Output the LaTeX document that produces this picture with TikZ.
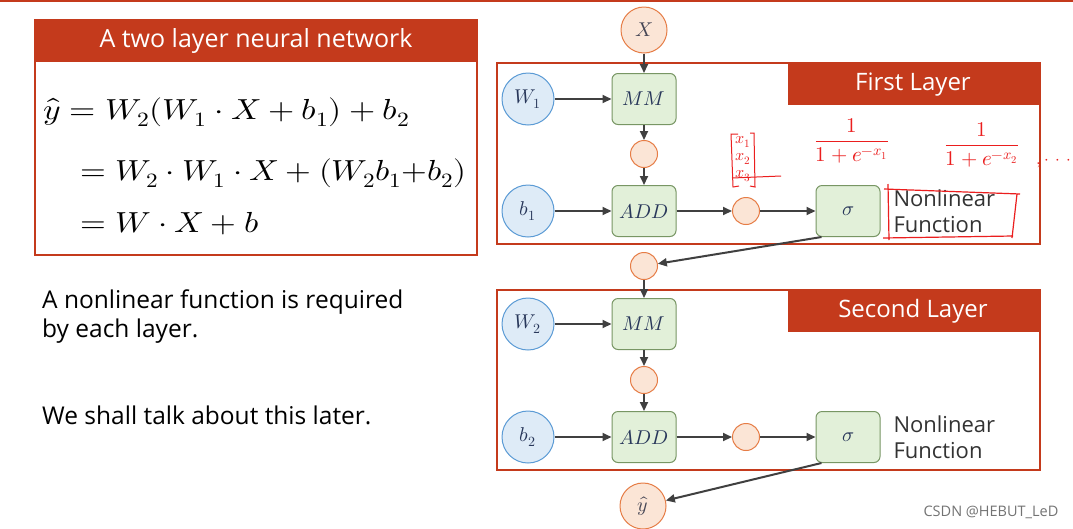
\documentclass[tikz,border=0pt]{standalone}
\usepackage{fontspec}
\usepackage{unicode-math}
\setmainfont{Open Sans}
\setmathfont{Latin Modern Math}
\usetikzlibrary{arrows.meta}
\definecolor{slidered}{RGB}{196,58,28}
\definecolor{wblue}{RGB}{91,155,213}
\definecolor{wfill}{RGB}{222,235,247}
\definecolor{opgreen}{RGB}{120,150,100}
\definecolor{opfill}{RGB}{226,240,217}
\definecolor{torange}{RGB}{230,125,70}
\definecolor{tfill}{RGB}{251,229,214}
\definecolor{mathink}{RGB}{40,55,90}
\definecolor{arrowgray}{RGB}{64,64,64}
\definecolor{pen}{RGB}{235,30,30}
\newcommand{\wideeq}[2][1.18]{\scalebox{#1}[1]{$#2$}}
\tikzset{
  weight/.style={circle,draw=wblue,fill=wfill,line width=1pt,minimum size=52pt,inner sep=0pt,text=mathink,font=\fontsize{20}{24}\selectfont},
  opbox/.style={rectangle,rounded corners=6pt,draw=opgreen,fill=opfill,line width=1pt,minimum width=64pt,minimum height=51pt,text=mathink,font=\fontsize{20}{24}\selectfont},
  tensor/.style={circle,draw=torange,fill=tfill,line width=1pt,minimum size=27pt,inner sep=0pt},
  ionode/.style={tensor,minimum size=46pt,text=mathink!80!brown,font=\fontsize{20}{24}\selectfont},
  flow/.style={->,line width=2pt,draw=arrowgray},
  layerbox/.style={draw=slidered,line width=2pt},
  header/.style={text=white,font=\fontsize{24}{28}\selectfont},
  eqn/.style={anchor=base west,inner sep=0pt,font=\fontsize{29}{33}\selectfont},
  plain/.style={anchor=base west,inner sep=0pt,align=left,font=\fontsize{24.5}{29}\selectfont},
  nonlin/.style={anchor=west,align=left,text=black!80,font=\fontsize{22}{26}\selectfont},
  note/.style={pen,inner sep=0pt,font=\fontsize{21}{21}\selectfont},
}
\begin{document}
\begin{tikzpicture}[x=1pt,y=-1pt,>={Triangle[length=9pt,width=8pt]}]
   \useasboundingbox (0,0) rectangle (1073,528);
   \fill[white] (0,0) rectangle (1073,528);
   \draw[slidered,line width=2pt] (0,1) -- (1073,1);
   % formula box
   \fill[slidered] (35,20) rectangle (477,62);
   \draw[slidered,line width=1.5pt] (35,20) rectangle (477,255);
   \node[header,font=\fontsize{25}{28}\selectfont] (title) at (256,41) {A two layer neural network};
   \node[eqn] (eq1) at (43,119) {\wideeq[1.16]{\hat{y} = W_2(W_1\cdot X + b_1) + b_2}};
   \node[eqn] (eq2) at (80,180) {\wideeq[1.14]{= W_2\cdot W_1\cdot X + (W_2b_1{+}b_2)}};
   \node[eqn] (eq3) at (80,232) {\wideeq[1.14]{= W\cdot X + b}};
   % remark
   \node[plain] (rem1) at (42,337) {A nonlinear function is required\\by each layer.};
   \node[plain] (rem2) at (42,424) {We shall talk about this later.};
   % layer frames
   \draw[layerbox] (497,63) rectangle (1040,244);
   \fill[slidered] (788,63) rectangle (1040,105);
   \node[header] (l1) at (913,85) {First Layer};
   \draw[layerbox] (497,290) rectangle (1040,470);
   \fill[slidered] (788,290) rectangle (1040,332);
   \node[header] (l2) at (913,311) {Second Layer};
   % first layer
   \node[ionode] (x) at (644,30) {$X$};
   \node[weight] (w1) at (528,99) {$W_1$};
   \node[opbox] (mm1) at (644,99) {$MM$};
   \node[tensor] (t1) at (644,154) {};
   \node[weight] (b1) at (528,211) {$b_1$};
   \node[opbox] (add1) at (644,211) {$ADD$};
   \node[tensor] (s1) at (746,211) {};
   \node[opbox] (sig1) at (848,211) {$\sigma$};
   \node[nonlin] (f1) at (890,211) {Nonlinear\\Function};
   \node[tensor] (h1) at (644,266) {};
   % second layer
   \node[weight] (w2) at (528,324) {$W_2$};
   \node[opbox] (mm2) at (644,324) {$MM$};
   \node[tensor] (t2) at (644,380) {};
   \node[weight] (b2) at (528,437) {$b_2$};
   \node[opbox] (add2) at (644,437) {$ADD$};
   \node[tensor] (s2) at (746,437) {};
   \node[opbox] (sig2) at (848,437) {$\sigma$};
   \node[nonlin] (f2) at (890,437) {Nonlinear\\Function};
   \node[ionode] (y) at (643,506) {$\hat{y}$};
   % connectors
   \draw[flow] (x) -- (mm1);
   \draw[flow] (w1) -- (mm1);
   \draw[flow] (mm1) -- (t1);
   \draw[flow] (t1) -- (add1);
   \draw[flow] (b1) -- (add1);
   \draw[flow] (add1) -- (s1);
   \draw[flow] (s1) -- (sig1);
   \draw[flow] ([xshift=6pt]sig1.south west) -- (h1);
   \draw[flow] (h1) -- (mm2);
   \draw[flow] (w2) -- (mm2);
   \draw[flow] (mm2) -- (t2);
   \draw[flow] (t2) -- (add2);
   \draw[flow] (b2) -- (add2);
   \draw[flow] (add2) -- (s2);
   \draw[flow] (s2) -- (sig2);
   \draw[flow] ([xshift=6pt]sig2.south west) -- (y);
   % pen notes
   \node[note,font=\fontsize{16}{17}\selectfont,align=center] (vec) at (743,159) {$x_1$\\$x_2$\\$x_3$};
   \draw[pen,line width=1pt] (738,134) -- (731,134) -- (733,187) -- (739,186);
   \draw[pen,line width=1pt] (750,133) -- (754,133) -- (755,187) -- (750,186);
   \draw[pen,line width=1pt] (732,178) -- (781,176);
   \node[note] (sg1) at (852,141) {$\dfrac{1}{1+e^{-x_1}}$};
   \node[note] (sg2) at (982,145) {$\dfrac{1}{1+e^{-x_2}}$};
   \node[note,font=\fontsize{17}{17}\selectfont] (dots) at (1054,164) {$,\cdot\,\cdot\,\cdot$};
   \draw[pen,line width=1.2pt] (888,184) -- (889,240) (883,238) -- (1013,236) (1017,194) -- (1012,238) (884,189) -- (1020,194);
   % watermark
   \node[text=black!55,inner sep=0pt,font=\fontsize{14.5}{14.5}\selectfont] (wm) at (991,512) {CSDN @HEBUT\_LeD};
\end{tikzpicture}
\end{document}
